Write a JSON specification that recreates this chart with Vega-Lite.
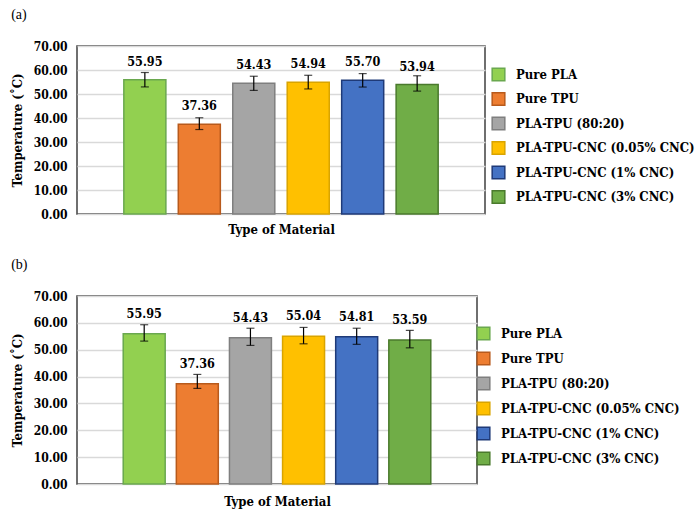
{
  "$schema": "https://vega.github.io/schema/vega-lite/v6.json",
  "padding": {"left": 10, "top": 7, "right": 0, "bottom": 0},
  "background": "white",
  "config": {
    "font": "DejaVu Serif Condensed, DejaVu Serif",
    "view": {"stroke": "#404040", "strokeWidth": 1.5},
    "concat": {"spacing": 20},
    "axis": {"labelFont": "DejaVu Serif Condensed, DejaVu Serif", "titleFont": "DejaVu Serif Condensed, DejaVu Serif", "labelColor": "black", "titleColor": "black", "labelOverlap": false},
    "legend": {"labelFont": "DejaVu Serif Condensed, DejaVu Serif"},
    "title": {"font": "Liberation Serif"},
    "text": {"font": "DejaVu Serif Condensed, DejaVu Serif"}
  },
  "datasets": {
    "a": [
      {"material": "Pure PLA", "value": 55.95, "lo": 52.95, "hi": 58.95},
      {"material": "Pure TPU", "value": 37.36, "lo": 35.2, "hi": 40.1},
      {"material": "PLA-TPU (80:20)", "value": 54.43, "lo": 51.5, "hi": 57.4},
      {"material": "PLA-TPU-CNC (0.05% CNC)", "value": 54.94, "lo": 52.1, "hi": 57.8},
      {"material": "PLA-TPU-CNC (1% CNC)", "value": 55.7, "lo": 52.9, "hi": 58.5},
      {"material": "PLA-TPU-CNC (3% CNC)", "value": 53.94, "lo": 51.2, "hi": 57.6}
    ],
    "b": [
      {"material": "Pure PLA", "value": 55.95, "lo": 53.2, "hi": 59.3},
      {"material": "Pure TPU", "value": 37.36, "lo": 35.6, "hi": 40.8},
      {"material": "PLA-TPU (80:20)", "value": 54.43, "lo": 51.6, "hi": 58.0},
      {"material": "PLA-TPU-CNC (0.05% CNC)", "value": 55.04, "lo": 52.2, "hi": 58.3},
      {"material": "PLA-TPU-CNC (1% CNC)", "value": 54.81, "lo": 52.0, "hi": 58.0},
      {"material": "PLA-TPU-CNC (3% CNC)", "value": 53.59, "lo": 50.7, "hi": 57.2}
    ]
  },
  "vconcat": [
    {
      "width": 408,
      "height": 168,
      "title": {"text": "(a)", "anchor": "start", "frame": "bounds", "fontSize": 14, "fontWeight": "normal", "offset": 18},
      "data": {"name": "a"},
      "encoding": {
        "x": {"field": "material", "type": "nominal", "sort": null,
              "scale": {"paddingInner": 0.228, "paddingOuter": 0.86},
              "axis": {"labels": false, "ticks": false, "domain": false, "title": "Type of Material", "titleFontSize": 13, "titleFontWeight": "bold", "titlePadding": 9}}
      },
      "layer": [
        {
          "mark": {"type": "bar", "strokeWidth": 1.5},
          "encoding": {
            "y": {"field": "value", "type": "quantitative",
                  "scale": {"domain": [0, 70]},
                  "axis": {"values": [0, 10, 20, 30, 40, 50, 60, 70], "format": ".2f", "labelFontSize": 12, "labelFontWeight": "bold", "labelPadding": 10, "ticks": false, "domain": false, "gridColor": "#d9d9d9", "gridWidth": 1.5, "title": "Temperature (˚C)", "titleFontSize": 13, "titleFontWeight": "bold", "titlePadding": 9}},
            "color": {"field": "material", "type": "nominal", "sort": null,
                      "scale": {"domain": ["Pure PLA", "Pure TPU", "PLA-TPU (80:20)", "PLA-TPU-CNC (0.05% CNC)", "PLA-TPU-CNC (1% CNC)", "PLA-TPU-CNC (3% CNC)"],
                                "range": ["#92d050", "#ed7d31", "#a5a5a5", "#ffc000", "#4472c4", "#70ad47"]},
                      "legend": {"orient": "none", "legendX": 414, "legendY": 21, "title": null, "symbolType": "square", "symbolSize": 160, "symbolStrokeWidth": 1.5, "labelFontSize": 13, "labelFontWeight": "bold", "labelColor": "black", "labelOffset": 10, "rowPadding": 5.5, "labelLimit": 300,
                                 "labelExpr": "indexof(datum.label, 'Pure') == 0 ? '\u00a0\u00a0' + datum.label : datum.label"}},
            "stroke": {"field": "material", "type": "nominal", "sort": null,
                       "scale": {"domain": ["Pure PLA", "Pure TPU", "PLA-TPU (80:20)", "PLA-TPU-CNC (0.05% CNC)", "PLA-TPU-CNC (1% CNC)", "PLA-TPU-CNC (3% CNC)"],
                                 "range": ["#6aa84f", "#b85a1c", "#7f7f7f", "#d9a400", "#1f3a78", "#4a7a2c"]},
                       "legend": null}
          }
        },
        {
          "mark": {"type": "rule", "color": "black", "strokeWidth": 1.2},
          "encoding": {"y": {"field": "lo", "type": "quantitative", "axis": {"values": [0, 10, 20, 30, 40, 50, 60, 70], "format": ".2f", "labelFontSize": 12, "labelFontWeight": "bold", "labelPadding": 10, "ticks": false, "domain": false, "gridColor": "#d9d9d9", "gridWidth": 1.5, "title": "Temperature (˚C)", "titleFontSize": 13, "titleFontWeight": "bold", "titlePadding": 9}}, "y2": {"field": "hi"}}
        },
        {
          "mark": {"type": "tick", "color": "black", "size": 8, "thickness": 1.2},
          "encoding": {"y": {"field": "lo", "type": "quantitative", "axis": {"values": [0, 10, 20, 30, 40, 50, 60, 70], "format": ".2f", "labelFontSize": 12, "labelFontWeight": "bold", "labelPadding": 10, "ticks": false, "domain": false, "gridColor": "#d9d9d9", "gridWidth": 1.5, "title": "Temperature (˚C)", "titleFontSize": 13, "titleFontWeight": "bold", "titlePadding": 9}}}
        },
        {
          "mark": {"type": "tick", "color": "black", "size": 8, "thickness": 1.2},
          "encoding": {"y": {"field": "hi", "type": "quantitative", "axis": {"values": [0, 10, 20, 30, 40, 50, 60, 70], "format": ".2f", "labelFontSize": 12, "labelFontWeight": "bold", "labelPadding": 10, "ticks": false, "domain": false, "gridColor": "#d9d9d9", "gridWidth": 1.5, "title": "Temperature (˚C)", "titleFontSize": 13, "titleFontWeight": "bold", "titlePadding": 9}}}
        },
        {
          "mark": {"type": "text", "dy": -18, "fontWeight": "bold", "fontSize": 12.5, "color": "black", "baseline": "middle"},
          "encoding": {"y": {"field": "value", "type": "quantitative", "axis": {"values": [0, 10, 20, 30, 40, 50, 60, 70], "format": ".2f", "labelFontSize": 12, "labelFontWeight": "bold", "labelPadding": 10, "ticks": false, "domain": false, "gridColor": "#d9d9d9", "gridWidth": 1.5, "title": "Temperature (˚C)", "titleFontSize": 13, "titleFontWeight": "bold", "titlePadding": 9}}, "text": {"field": "value", "type": "quantitative", "format": ".2f"}}
        }
      ]
    },
    {
      "width": 400,
      "height": 188,
      "title": {"text": "(b)", "anchor": "start", "frame": "bounds", "fontSize": 14, "fontWeight": "normal", "offset": 18},
      "data": {"name": "b"},
      "encoding": {
        "x": {"field": "material", "type": "nominal", "sort": null,
              "scale": {"paddingInner": 0.21, "paddingOuter": 0.87},
              "axis": {"labels": false, "ticks": false, "domain": false, "title": "Type of Material", "titleFontSize": 13, "titleFontWeight": "bold", "titlePadding": 11}}
      },
      "layer": [
        {
          "mark": {"type": "bar", "strokeWidth": 1.5},
          "encoding": {
            "y": {"field": "value", "type": "quantitative",
                  "scale": {"domain": [0, 70]},
                  "axis": {"values": [0, 10, 20, 30, 40, 50, 60, 70], "format": ".2f", "labelFontSize": 12, "labelFontWeight": "bold", "labelPadding": 10, "ticks": false, "domain": false, "gridColor": "#d9d9d9", "gridWidth": 1.5, "title": "Temperature (˚C)", "titleFontSize": 13, "titleFontWeight": "bold", "titlePadding": 9}},
            "color": {"field": "material", "type": "nominal", "sort": null,
                      "scale": {"domain": ["Pure PLA", "Pure TPU", "PLA-TPU (80:20)", "PLA-TPU-CNC (0.05% CNC)", "PLA-TPU-CNC (1% CNC)", "PLA-TPU-CNC (3% CNC)"],
                                "range": ["#92d050", "#ed7d31", "#a5a5a5", "#ffc000", "#4472c4", "#70ad47"]},
                      "legend": {"orient": "none", "legendX": 399, "legendY": 30, "title": null, "symbolType": "square", "symbolSize": 160, "symbolStrokeWidth": 1.5, "labelFontSize": 13, "labelFontWeight": "bold", "labelColor": "black", "labelOffset": 10, "rowPadding": 6, "labelLimit": 300,
                                 "labelExpr": "indexof(datum.label, 'Pure') == 0 ? '\u00a0\u00a0' + datum.label : datum.label"}},
            "stroke": {"field": "material", "type": "nominal", "sort": null,
                       "scale": {"domain": ["Pure PLA", "Pure TPU", "PLA-TPU (80:20)", "PLA-TPU-CNC (0.05% CNC)", "PLA-TPU-CNC (1% CNC)", "PLA-TPU-CNC (3% CNC)"],
                                 "range": ["#6aa84f", "#b85a1c", "#7f7f7f", "#d9a400", "#1f3a78", "#4a7a2c"]},
                       "legend": null}
          }
        },
        {
          "mark": {"type": "rule", "color": "black", "strokeWidth": 1.2},
          "encoding": {"y": {"field": "lo", "type": "quantitative", "axis": {"values": [0, 10, 20, 30, 40, 50, 60, 70], "format": ".2f", "labelFontSize": 12, "labelFontWeight": "bold", "labelPadding": 10, "ticks": false, "domain": false, "gridColor": "#d9d9d9", "gridWidth": 1.5, "title": "Temperature (˚C)", "titleFontSize": 13, "titleFontWeight": "bold", "titlePadding": 9}}, "y2": {"field": "hi"}}
        },
        {
          "mark": {"type": "tick", "color": "black", "size": 8, "thickness": 1.2},
          "encoding": {"y": {"field": "lo", "type": "quantitative", "axis": {"values": [0, 10, 20, 30, 40, 50, 60, 70], "format": ".2f", "labelFontSize": 12, "labelFontWeight": "bold", "labelPadding": 10, "ticks": false, "domain": false, "gridColor": "#d9d9d9", "gridWidth": 1.5, "title": "Temperature (˚C)", "titleFontSize": 13, "titleFontWeight": "bold", "titlePadding": 9}}}
        },
        {
          "mark": {"type": "tick", "color": "black", "size": 8, "thickness": 1.2},
          "encoding": {"y": {"field": "hi", "type": "quantitative", "axis": {"values": [0, 10, 20, 30, 40, 50, 60, 70], "format": ".2f", "labelFontSize": 12, "labelFontWeight": "bold", "labelPadding": 10, "ticks": false, "domain": false, "gridColor": "#d9d9d9", "gridWidth": 1.5, "title": "Temperature (˚C)", "titleFontSize": 13, "titleFontWeight": "bold", "titlePadding": 9}}}
        },
        {
          "mark": {"type": "text", "dy": -20, "fontWeight": "bold", "fontSize": 12.5, "color": "black", "baseline": "middle"},
          "encoding": {"y": {"field": "value", "type": "quantitative", "axis": {"values": [0, 10, 20, 30, 40, 50, 60, 70], "format": ".2f", "labelFontSize": 12, "labelFontWeight": "bold", "labelPadding": 10, "ticks": false, "domain": false, "gridColor": "#d9d9d9", "gridWidth": 1.5, "title": "Temperature (˚C)", "titleFontSize": 13, "titleFontWeight": "bold", "titlePadding": 9}}, "text": {"field": "value", "type": "quantitative", "format": ".2f"}}
        }
      ]
    }
  ],
  "resolve": {"scale": {"color": "independent", "stroke": "independent", "x": "independent", "y": "independent"}, "legend": {"color": "independent", "stroke": "independent"}}
}
